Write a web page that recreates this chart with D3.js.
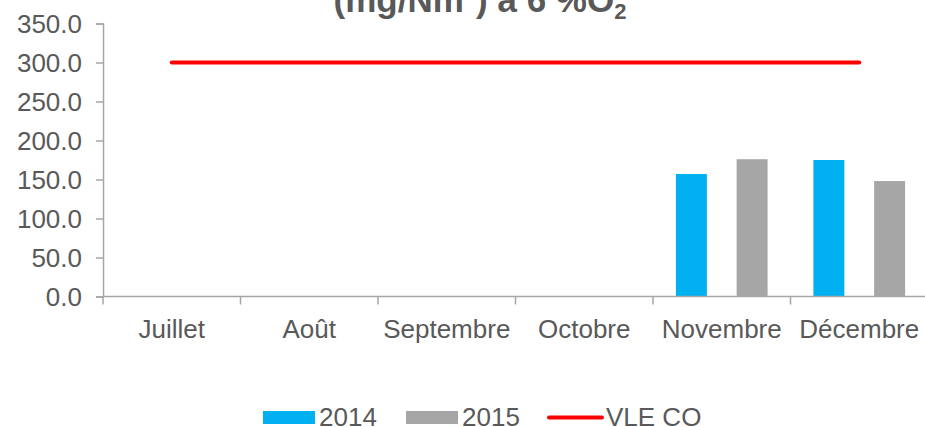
<!DOCTYPE html>
<html>
<head>
<meta charset="utf-8">
<script src="https://cdn.jsdelivr.net/npm/d3@7"></script>
<style>
  body { margin: 0; background: #fff; }
  svg { display: block; font-family: Arial, "Liberation Sans", sans-serif; }
</style>
</head>
<body>
<div id="chart"></div>
<script>
// Données
const mois = ['Juillet', 'Août', 'Septembre', 'Octobre', 'Novembre', 'Décembre'];
const series = ['2014', '2015'];
const valeurs2014 = [null, null, null, null, 157, 175];
const valeurs2015 = [null, null, null, null, 176, 148];
const vleCO = [300, 300, 300, 300, 300, 300];
const yTicks = [0, 50, 100, 150, 200, 250, 300, 350];

const COLOR_2014 = '#00B0F0',
      COLOR_2015 = '#A6A6A6',
      COLOR_VLE = '#FF0000',
      COLOR_AXIS = '#A6A6A6',
      COLOR_TEXT = '#595959';

const width = 925, height = 427;
const FONT = '26px';

let svg = d3.select('#chart')
    .append('svg')
    .attr('width', width)
    .attr('height', height);

// Titre (coupé en haut, comme l'original)
let title = svg.append('text')
    .attr('x', 480)
    .attr('y', 12)
    .attr('text-anchor', 'middle')
    .attr('fill', COLOR_TEXT)
    .style('font-size', '35px')
    .style('font-weight', 'bold');
title.append('tspan').text('(mg/Nm');
title.append('tspan').attr('dy', -12).style('font-size', '22px').text('3');
title.append('tspan').attr('dy', 12).text(') à 6 %O');
title.append('tspan').attr('dy', 7).style('font-size', '22px').text('2');

// Echelles
let x = d3.scaleBand()
    .domain(mois)
    .range([103, 928]);

let x1 = d3.scaleBand()
    .domain(series)
    .range([0, x.bandwidth()])
    .paddingInner(0.49)
    .paddingOuter(0.377);

let y = d3.scaleLinear()
    .domain([0, 350])
    .range([296.5, 23.5]);

// Axe Y
let yAxis = svg.append('g')
    .attr('transform', 'translate(103,0)')
    .call(d3.axisLeft(y).tickValues(yTicks).tickSize(7).tickPadding(14).tickFormat(d3.format('.1f')));
yAxis.select('.domain').attr('stroke', COLOR_AXIS).attr('stroke-width', 1.5);
yAxis.selectAll('.tick line').attr('stroke', COLOR_AXIS).attr('stroke-width', 1.5);
yAxis.selectAll('.tick text')
    .attr('fill', COLOR_TEXT)
    .style('font-size', FONT)
    .style('font-family', 'Arial, "Liberation Sans", sans-serif')
    .attr('dy', '0.35em');

// Barres
let data = mois.map(function(m, i) {
    return {mois: m, '2014': valeurs2014[i], '2015': valeurs2015[i]};
});
let color = d3.scaleOrdinal().domain(series).range([COLOR_2014, COLOR_2015]);

svg.append('g')
    .selectAll('g')
    .data(data)
    .enter()
    .append('g')
    .attr('transform', function(d) { return 'translate(' + x(d.mois) + ',0)'; })
    .selectAll('rect')
    .data(function(d) {
        return series.filter(function(s) { return d[s] != null; })
            .map(function(s) { return {key: s, value: d[s]}; });
    })
    .enter()
    .append('rect')
    .attr('x', function(d) { return x1(d.key); })
    .attr('y', function(d) { return y(d.value); })
    .attr('width', x1.bandwidth())
    .attr('height', function(d) { return y(0) - y(d.value); })
    .attr('fill', function(d) { return color(d.key); });

// Axe X
let xAxis = svg.append('g');
xAxis.append('line')
    .attr('x1', 103).attr('x2', width)
    .attr('y1', y(0)).attr('y2', y(0))
    .attr('stroke', COLOR_AXIS).attr('stroke-width', 1.5);
xAxis.selectAll('.xtick')
    .data(mois)
    .enter()
    .append('line')
    .attr('x1', function(d) { return x(d); })
    .attr('x2', function(d) { return x(d); })
    .attr('y1', y(0)).attr('y2', y(0) + 8)
    .attr('stroke', COLOR_AXIS).attr('stroke-width', 1.5);
xAxis.selectAll('.xlabel')
    .data(mois)
    .enter()
    .append('text')
    .attr('x', function(d) { return x(d) + x.bandwidth() / 2; })
    .attr('y', 338)
    .attr('text-anchor', 'middle')
    .attr('fill', COLOR_TEXT)
    .style('font-size', FONT)
    .text(function(d) { return d; });

// Ligne VLE CO
let line = d3.line()
    .x(function(d, i) { return x(mois[i]) + x.bandwidth() / 2; })
    .y(function(d) { return y(d); });
svg.append('path')
    .datum(vleCO)
    .attr('d', line)
    .attr('fill', 'none')
    .attr('stroke', COLOR_VLE)
    .attr('stroke-width', 4)
    .attr('stroke-linecap', 'round');

// Légende
let legend = svg.append('g');
legend.append('rect').attr('x', 263).attr('y', 411).attr('width', 52).attr('height', 13).attr('fill', COLOR_2014);
legend.append('text').attr('x', 319).attr('y', 426).attr('fill', COLOR_TEXT).style('font-size', FONT).text(series[0]);
legend.append('rect').attr('x', 406).attr('y', 411).attr('width', 52).attr('height', 13).attr('fill', COLOR_2015);
legend.append('text').attr('x', 462).attr('y', 426).attr('fill', COLOR_TEXT).style('font-size', FONT).text(series[1]);
legend.append('line').attr('x1', 549).attr('x2', 602).attr('y1', 417.5).attr('y2', 417.5)
    .attr('stroke', COLOR_VLE).attr('stroke-width', 4).attr('stroke-linecap', 'round');
legend.append('text').attr('x', 606).attr('y', 426).attr('fill', COLOR_TEXT).style('font-size', FONT).text('VLE CO');
</script>
</body>
</html>
